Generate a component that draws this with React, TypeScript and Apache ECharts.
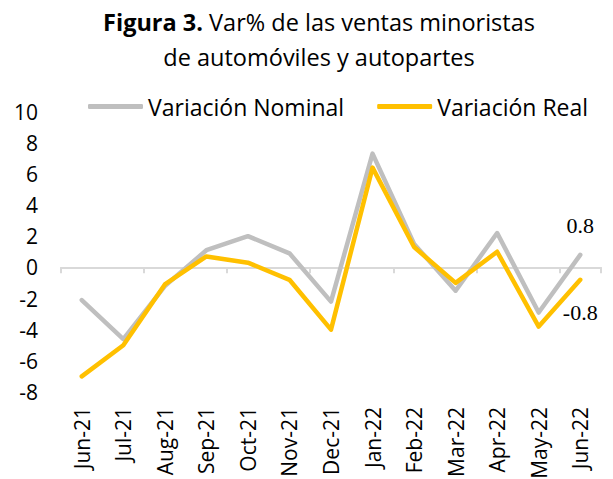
import React, { useEffect, useRef } from "react";
import * as echarts from "echarts";

const categories = ["Jun-21", "Jul-21", "Aug-21", "Sep-21", "Oct-21", "Nov-21", "Dec-21", "Jan-22", "Feb-22", "Mar-22", "Apr-22", "May-22", "Jun-22"];
const nominal = [-2.1, -4.6, -1.2, 1.1, 2.0, 0.9, -2.2, 7.3, 1.5, -1.5, 2.2, -2.9, 0.8];
const real = [-7.0, -5.0, -1.1, 0.7, 0.3, -0.8, -4.0, 6.4, 1.3, -1.0, 1.0, -3.8, -0.8];
const yMin = -8;
const yMax = 10;
const yInterval = 2;
const seriesNames = ["Variación Nominal", "Variación Real"];
const titleBold = "Figura 3.";
const titleRest = " Var% de las ventas minoristas";
const titleLine2 = "de automóviles y autopartes";

const FONT = "'Open Sans', 'Noto Sans', sans-serif";
const GRAY = "#bfbfbf";
const YELLOW = "#ffc000";

function withEndLabel(values: number[], position: string, distance: number) {
  return values.map((v, i) =>
    i === values.length - 1
      ? {
          value: v,
          label: {
            show: true,
            position,
            distance,
            formatter: (p: any) => String(p.value),
            fontFamily: "'Liberation Serif', serif",
            fontSize: 22,
            color: "#000",
          },
        }
      : v
  );
}

export default function App() {
  const ref = useRef<HTMLDivElement>(null);
  useEffect(() => {
    document.body.style.margin = "0";
    const chart = echarts.init(ref.current!, null, { renderer: "svg" });
    chart.setOption({
      animation: false,
      backgroundColor: "#fff",
      textStyle: { fontFamily: FONT },
      title: {
        left: 319,
        top: 4,
        padding: 0,
        textAlign: "center",
        text: `{b|${titleBold}}${titleRest}\n${titleLine2}`,
        textStyle: {
          fontFamily: FONT,
          fontSize: 23.5,
          fontWeight: "normal",
          color: "#000",
          lineHeight: 35,
          rich: {
            b: { fontFamily: FONT, fontSize: 23.5, fontWeight: "bold", color: "#000", lineHeight: 35 },
          },
        },
      },
      legend: {
        left: 88,
        top: 95,
        padding: 0,
        itemWidth: 55,
        itemHeight: 5,
        itemGap: 33,
        icon: "roundRect",
        data: seriesNames,
        textStyle: { fontFamily: FONT, fontSize: 23, color: "#000" },
      },
      grid: { left: 61, right: 12, top: 111.5, bottom: 87, outerBoundsMode: "none", containLabel: false },
      xAxis: [
        {
          type: "category",
          data: categories,
          boundaryGap: true,
          axisLine: { onZero: true, lineStyle: { color: "#d9d9d9", width: 2 } },
          axisTick: { show: true, length: 6, lineStyle: { color: "#d9d9d9", width: 2 } },
          axisLabel: { show: false },
          splitLine: { show: false },
        },
        {
          type: "category",
          data: categories,
          position: "bottom",
          boundaryGap: true,
          axisLine: { show: false, onZero: false },
          axisTick: { show: false },
          axisLabel: { rotate: 90, margin: 15, fontFamily: FONT, fontSize: 21, color: "#000", interval: 0 },
          splitLine: { show: false },
        },
      ],
      yAxis: {
        type: "value",
        min: yMin,
        max: yMax,
        interval: yInterval,
        axisLine: { show: false },
        axisTick: { show: false },
        splitLine: { show: false },
        axisLabel: { fontFamily: FONT, fontSize: 21, color: "#000", margin: 23 },
      },
      series: [
        {
          name: seriesNames[0],
          type: "line",
          xAxisIndex: 0,
          data: withEndLabel(nominal, "top", 18),
          symbol: "circle",
          symbolSize: 0,
          showSymbol: true,
          lineStyle: { color: GRAY, width: 4.5, cap: "round", join: "round" },
          itemStyle: { color: GRAY },
          z: 2,
        },
        {
          name: seriesNames[1],
          type: "line",
          xAxisIndex: 0,
          data: withEndLabel(real, "bottom", 22),
          symbol: "circle",
          symbolSize: 0,
          showSymbol: true,
          lineStyle: { color: YELLOW, width: 4.5, cap: "round", join: "round" },
          itemStyle: { color: YELLOW },
          z: 3,
        },
      ],
    });
    return () => chart.dispose();
  }, []);
  return <div ref={ref} style={{ width: 613, height: 479 }} />;
}
